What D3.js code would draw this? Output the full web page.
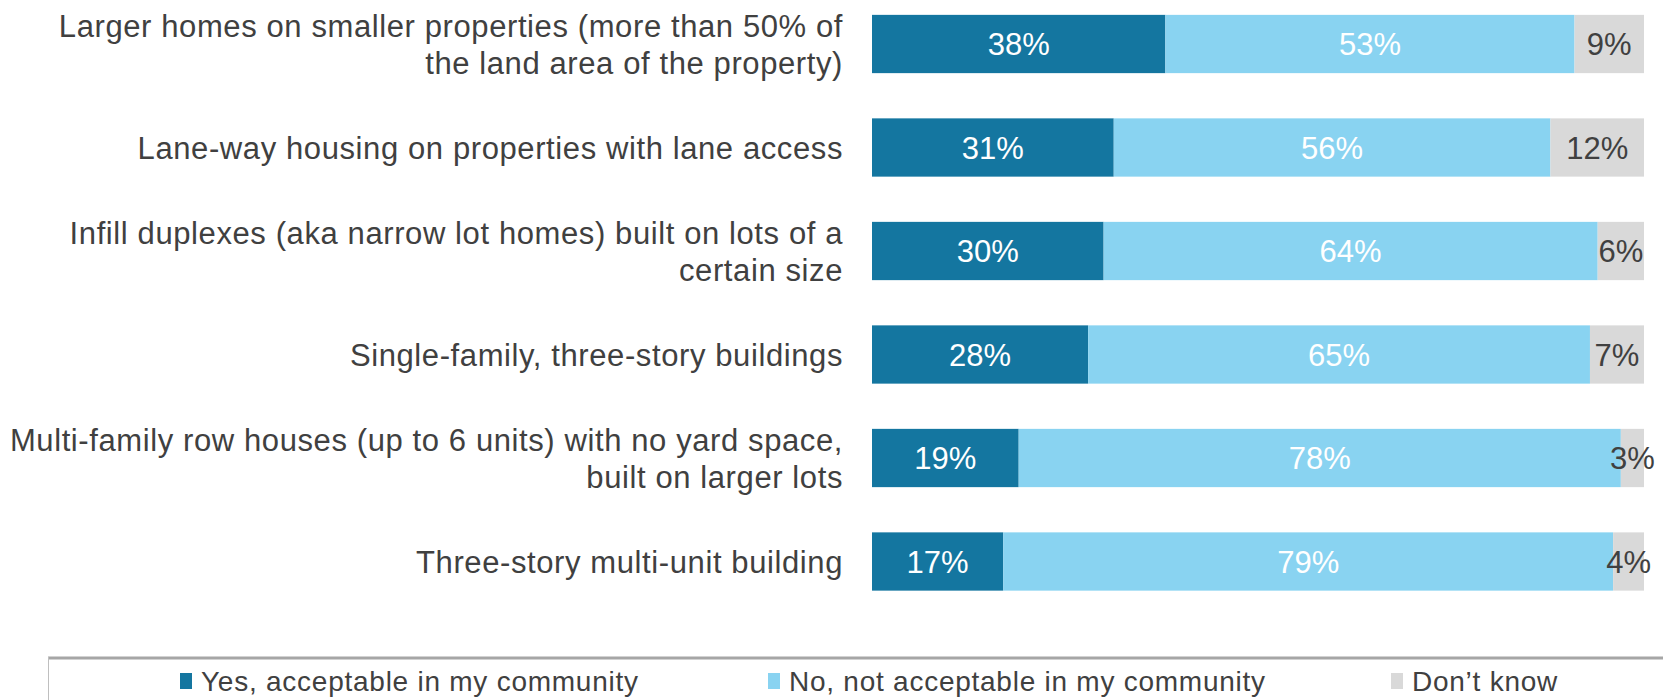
<!DOCTYPE html>
<html>
<head>
<meta charset="utf-8">
<script src="https://cdn.jsdelivr.net/npm/d3@7"></script>
<style>
  html, body { margin: 0; padding: 0; background: #ffffff; }
  svg { display: block; }
  text { font-family: "Liberation Sans", Arial, sans-serif; }
</style>
</head>
<body>
<svg id="chart" width="1663" height="700"></svg>
<script>
// ---- data ----
const categories = [
  "Larger homes on smaller properties (more than 50% of|the land area of the property)",
  "Lane-way housing on properties with lane access",
  "Infill duplexes (aka narrow lot homes) built on lots of a|certain size",
  "Single-family, three-story buildings",
  "Multi-family row houses (up to 6 units) with no yard space,|built on larger lots",
  "Three-story multi-unit building"
];
const seriesNames = ["Yes, acceptable in my community", "No, not acceptable in my community", "Don\u2019t know"];
const yesValues = [38, 31, 30, 28, 19, 17];
const noValues = [53, 56, 64, 65, 78, 79];
const dkValues = [9, 12, 6, 7, 3, 4];
const colors = ["#1476a0", "#89d3f1", "#d9d9d9"];
const labelColors = ["#ffffff", "#ffffff", "#404040"];

// ---- build table ----
const keys = ["yes", "no", "dk"];
const rows = categories.map((c, i) => ({ cat: c, yes: yesValues[i], no: noValues[i], dk: dkValues[i] }));
const stacked = d3.stack().keys(keys).offset(d3.stackOffsetExpand)(rows);

const svg = d3.select("#chart");

const x = d3.scaleLinear().domain([0, 1]).range([872, 1644]);
const y = d3.scaleBand().domain(categories).range([-7.75, 613.25]).paddingInner(0.437).paddingOuter(0.2185);

// bars
const layer = svg.append("g").selectAll("g").data(stacked).join("g")
  .attr("fill", (d, i) => colors[i]);
layer.selectAll("rect").data(d => d).join("rect")
  .attr("x", d => x(d[0]))
  .attr("width", d => x(d[1]) - x(d[0]))
  .attr("y", d => y(d.data.cat))
  .attr("height", y.bandwidth());

// value labels
stacked.forEach((s, si) => {
  svg.append("g").selectAll("text").data(s).join("text")
    .attr("x", d => (x(d[0]) + x(d[1])) / 2)
    .attr("y", d => y(d.data.cat) + y.bandwidth() / 2)
    .attr("dy", "0.36em")
    .attr("text-anchor", "middle")
    .attr("font-size", 31)
    .attr("fill", labelColors[si])
    .text(d => d.data[keys[si]] + "%");
});

// category labels
const catG = svg.append("g");
categories.forEach(c => {
  const lines = c.split("|");
  const cy = y(c) + y.bandwidth() / 2;
  const lh = 37;
  const t = catG.append("text")
    .attr("text-anchor", "end")
    .attr("font-size", 31)
    .attr("letter-spacing", 0.6)
    .attr("fill", "#404040");
  lines.forEach((ln, k) => {
    t.append("tspan")
      .attr("x", 843)
      .attr("y", cy + (k - (lines.length - 1) / 2) * lh)
      .attr("dy", "0.36em")
      .text(ln);
  });
});

// legend box
svg.append("line").attr("x1", 48).attr("x2", 1663).attr("y1", 658).attr("y2", 658)
  .attr("stroke", "#a6a6a6").attr("stroke-width", 3);
svg.append("line").attr("x1", 48.5).attr("x2", 48.5).attr("y1", 657).attr("y2", 700)
  .attr("stroke", "#bfbfbf").attr("stroke-width", 1);

const legendX = [180, 768, 1391];
const legend = svg.append("g").selectAll("g").data(seriesNames).join("g")
  .attr("transform", (d, i) => `translate(${legendX[i]},0)`);
legend.append("rect").attr("x", 0).attr("y", 673).attr("width", 12).attr("height", 16)
  .attr("fill", (d, i) => colors[i]);
legend.append("text").attr("x", 21).attr("y", 681).attr("dy", "0.36em")
  .attr("font-size", 28).attr("letter-spacing", 0.75).attr("fill", "#404040")
  .text(d => d);
</script>
</body>
</html>
